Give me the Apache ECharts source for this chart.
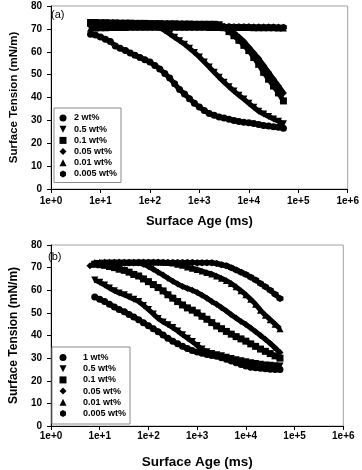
<!DOCTYPE html>
<html>
<head>
<meta charset="utf-8">
<script src="https://cdn.jsdelivr.net/npm/echarts@6/dist/echarts.min.js"></script>
<style>
  html, body { margin: 0; padding: 0; background: #fff; }
  #chart { width: 362px; height: 470px; }
</style>
</head>
<body>
<div id="chart"></div>
<script>
// surface age (ms), 0.1 decade steps from 10^0.8 to 10^4.7
const ages = [6.3, 7.9, 10, 12.6, 15.8, 20, 25, 32, 40, 50,
  63, 79, 100, 126, 158, 200, 251, 316, 398, 501,
  631, 794, 1000, 1259, 1585, 1995, 2512, 3162, 3981, 5012,
  6310, 7943, 10000, 12589, 15849, 19953, 25119, 31623, 39811, 50119];

const yTicks = [0, 10, 20, 30, 40, 50, 60, 70, 80];

// (a) surface tension, mN/m
const a2 = [67.7, 67.3, 66.5, 65.5, 64.5, 62.5, 61.5, 60.5, 59.5, 58.5,
  57.5, 56.5, 55.5, 54, 52.5, 50.5, 48.5, 46, 43.5, 41.5,
  39.5, 37.5, 35.8, 34.3, 33, 32.2, 31.5, 31, 30.5, 30,
  29.5, 29.2, 29, 28.6, 28.2, 27.8, 27.5, 27.2, 27, 26.6];
const a05 = [72, 72, 72, 72.2, 72, 72, 72.1, 72, 72, 72,
  72, 72, 72, 71.5, 70.5, 69.2, 67.8, 66.3, 64.8, 63.3,
  61.5, 59.7, 57.7, 55.5, 53.3, 51, 48.8, 46.7, 44.7, 42.8,
  41, 39.3, 37.5, 35.7, 34, 32.8, 31.7, 30.6, 29.6, 28.5];
const a01 = [72.8, 72.8, 72.7, 72.7, 72.6, 72.6, 72.5, 72.5, 72.5, 72.4,
  72.4, 72.4, 72.3, 72.3, 72.3, 72.2, 72.2, 72.2, 72.1, 72.1,
  72.1, 72, 72, 72, 72, 72, 71.8, 70.5, 68.8, 67,
  65, 62.8, 60.5, 57.5, 54.5, 51, 48, 45, 42, 38.5];
const a005 = [71.3, 71.3, 71.4, 71.3, 71.3, 71.4, 71.3, 71.3, 71.3, 71.4,
  71.3, 71.3, 71.3, 71.3, 71.3, 71.3, 71.3, 71.3, 71.2, 71.2,
  71.2, 71.2, 71.2, 71.2, 71.2, 71.1, 71.1, 71, 69.8, 68.3,
  66.5, 64.5, 62, 59.5, 57, 54, 51, 48, 45, 42];
const a001 = [70.3, 70.4, 70.5, 70.5, 70.6, 70.6, 70.6, 70.6, 70.7, 70.7,
  70.7, 70.7, 70.7, 70.7, 70.7, 70.7, 70.7, 70.7, 70.7, 70.7,
  70.7, 70.7, 70.7, 70.7, 70.6, 70.6, 70.6, 70.6, 70.6, 70.6,
  70.6, 70.6, 70.6, 70.5, 70.5, 70.5, 70.5, 70.5, 70.4, 70.4];
const a0005 = [71.8, 71.8, 71.7, 71.7, 71.7, 71.6, 71.6, 71.6, 71.5, 71.5,
  71.5, 71.5, 71.4, 71.4, 71.4, 71.3, 71.3, 71.3, 71.3, 71.2,
  71.2, 71.2, 71.1, 71.1, 71.1, 71, 71, 71, 71, 70.9,
  70.9, 70.9, 70.9, 70.8, 70.8, 70.8, 70.8, 70.8, 70.7, 70.7];

// (b) surface tension, mN/m
const b1 = [null, 57, 56, 55, 53.8, 52.6, 51.5, 50.5, 49.3, 48.2,
  47, 45.6, 44.3, 43, 41.7, 40.2, 38.8, 37.5, 36.3, 35.2,
  34.2, 33.4, 32.7, 32.1, 31.6, 31.2, 30.8, 30.2, 29.5, 28.7,
  28, 27.2, 26.5, 26, 25.7, 25.5, 25.3, 25.1, 25, 25];
const b05 = [null, 64.5, 63.5, 62.3, 61, 59.8, 58.8, 58, 57, 56,
  55, 53.3, 51.5, 49.5, 47.5, 46, 44.8, 43.5, 42, 40.3,
  38.8, 37.3, 35.6, 34, 32.8, 32, 31.5, 31, 30.4, 29.8,
  29.3, 28.8, 28.4, 28, 27.6, 27.3, 27, 26.8, 26.6, 26.5];
const b01 = [null, 71.5, 71.3, 71, 70.5, 70, 69.3, 68.8, 68, 67,
  66.3, 65, 63.8, 62.5, 61.2, 59.7, 58, 56.5, 55, 53.5,
  52.2, 51.2, 50, 48.5, 47.2, 45.7, 44.2, 43, 41.8, 40.6,
  39.5, 38.5, 37.5, 36.3, 35.2, 34, 33, 32, 31, 30];
const b005 = [70.8, 71.6, 71.8, 72, 72, 72, 72, 72, 72, 72,
  72, 71.5, 70.5, 69.3, 68, 66.7, 65.3, 64, 62.8, 61.7,
  60.8, 60, 59, 57.8, 56.5, 55, 53.8, 52.3, 50.8, 49.2,
  47.7, 46.2, 44.9, 43.3, 41.7, 40, 38.3, 36.5, 34.5, 32.5];
const b001 = [null, 72.3, 72.4, 72.5, 72.5, 72.5, 72.5, 72.5, 72.5, 72.5,
  72.5, 72.5, 72.5, 72.5, 72.5, 72.4, 72.3, 72, 71.5, 71,
  70.3, 69.7, 69.2, 68.5, 67.8, 67.2, 66.3, 65.3, 64.3, 63,
  61.5, 59.8, 58, 56, 53.8, 51.2, 49, 47, 45, 43];
const b0005 = [null, 71.8, 71.9, 72, 72, 72.1, 72.1, 72.2, 72.2, 72.2,
  72.3, 72.3, 72.3, 72.3, 72.3, 72.3, 72.3, 72.3, 72.3, 72.3,
  72.3, 72.3, 72.2, 72.2, 72.2, 72.1, 71.8, 71.3, 70.8, 70,
  69, 68, 67, 65.8, 64.5, 63, 61.5, 60, 58.2, 56.3];

const namesA = ['2 wt%', '0.5 wt%', '0.1 wt%', '0.05 wt%', '0.01 wt%', '0.005 wt%'];
const namesB = ['1 wt%', '0.5 wt%', '0.1 wt%', '0.05 wt%', '0.01 wt%', '0.005 wt%'];

const downTri = 'path://M0,0L10,0L5,10Z';
const hexagon = 'path://M5,0L9.33,2.5L9.33,7.5L5,10L0.67,7.5L0.67,2.5Z';
const symbols = ['circle', downTri, 'rect', 'diamond', 'triangle', hexagon];

const font = 'Liberation Sans, Arial, sans-serif';

function makeSeries(name, values, symbol, idx) {
  return {
    name: name,
    type: 'line',
    xAxisIndex: idx,
    yAxisIndex: idx,
    data: ages.map((a, i) => [a, values[i]]).filter(p => p[1] != null),
    symbol: symbol,
    symbolSize: 7,
    showSymbol: true,
    lineStyle: { color: '#000', width: 5 },
    itemStyle: { color: '#000' },
    animation: false
  };
}

function makeLegend(names, left, top, textPad, pad) {
  return {
    orient: 'vertical',
    left: left,
    top: top,
    padding: pad,
    borderColor: '#8a8a8a',
    borderWidth: 1,
    itemWidth: 7,
    itemHeight: 7,
    itemGap: 2.2,
    selectedMode: false,
    data: names.map((n, i) => ({ name: n, icon: symbols[i] })),
    textStyle: {
      fontFamily: font, fontSize: 9, fontWeight: 'bold', color: '#000',
      lineHeight: 9, padding: [0, 0, 0, textPad]
    }
  };
}

function xAxisCfg(idx, gap, labelMargin, nameSize) {
  return {
    type: 'log',
    logBase: 10,
    gridIndex: idx,
    min: 1,
    max: 1e6,
    name: 'Surface Age (ms)',
    nameLocation: 'middle',
    nameGap: gap,
    nameTextStyle: { fontFamily: font, fontSize: nameSize, fontWeight: 'bold', color: '#000' },
    axisLine: { lineStyle: { color: '#000', width: 1 } },
    axisTick: { length: 4, lineStyle: { color: '#000' } },
    axisLabel: {
      fontFamily: font, fontSize: 10, fontWeight: 'bold', color: '#000', margin: labelMargin,
      formatter: v => '1e+' + Math.round(Math.log10(v))
    },
    splitLine: { show: false },
    minorTick: { show: false }
  };
}

function yAxisCfg(idx, gap, nameSize) {
  return {
    type: 'value',
    gridIndex: idx,
    min: yTicks[0],
    max: yTicks[yTicks.length - 1],
    interval: 10,
    name: 'Surface Tension (mN/m)',
    nameLocation: 'middle',
    nameGap: gap,
    nameTextStyle: { fontFamily: font, fontSize: nameSize, fontWeight: 'bold', color: '#000' },
    axisLine: { show: true, lineStyle: { color: '#000', width: 1 } },
    axisTick: { show: true, length: 4, lineStyle: { color: '#000' } },
    axisLabel: { fontFamily: font, fontSize: 10, fontWeight: 'bold', color: '#000', margin: 9 },
    splitLine: { show: false }
  };
}

const seriesA = [a2, a05, a01, a005, a001, a0005].map((v, i) => makeSeries(namesA[i], v, symbols[i], 0));
const seriesB = [b1, b05, b01, b005, b001, b0005].map((v, i) => makeSeries(namesB[i], v, symbols[i], 1));

const option = {
  backgroundColor: '#fff',
  animation: false,
  grid: [
    { left: 45, right: 14.3, top: 6, bottom: 281, show: true, borderColor: '#a0a0a0', borderWidth: 1 },
    { left: 43.3, right: 18.7, top: 245, bottom: 42.7, show: true, borderColor: '#a0a0a0', borderWidth: 1 }
  ],
  xAxis: [xAxisCfg(0, 26, 7, 13), xAxisCfg(1, 29, 5, 13.5)],
  yAxis: [yAxisCfg(0, 31, 11.5), yAxisCfg(1, 31, 12)],
  legend: [
    makeLegend(namesA, 54, 108, 2.5, [5.5, 4, 4, 5.5]),
    makeLegend(namesB, 52, 347, 11.5, [6, 4, 6, 7.5])
  ],
  graphic: [
    { type: 'text', left: 51, top: 9, style: { text: '(a)', font: '11px ' + font, fill: '#000' } },
    { type: 'text', left: 48, top: 251, style: { text: '(b)', font: '11px ' + font, fill: '#000' } }
  ],
  series: seriesA.concat(seriesB)
};

const chart = echarts.init(document.getElementById('chart'));
chart.setOption(option);
</script>
</body>
</html>
